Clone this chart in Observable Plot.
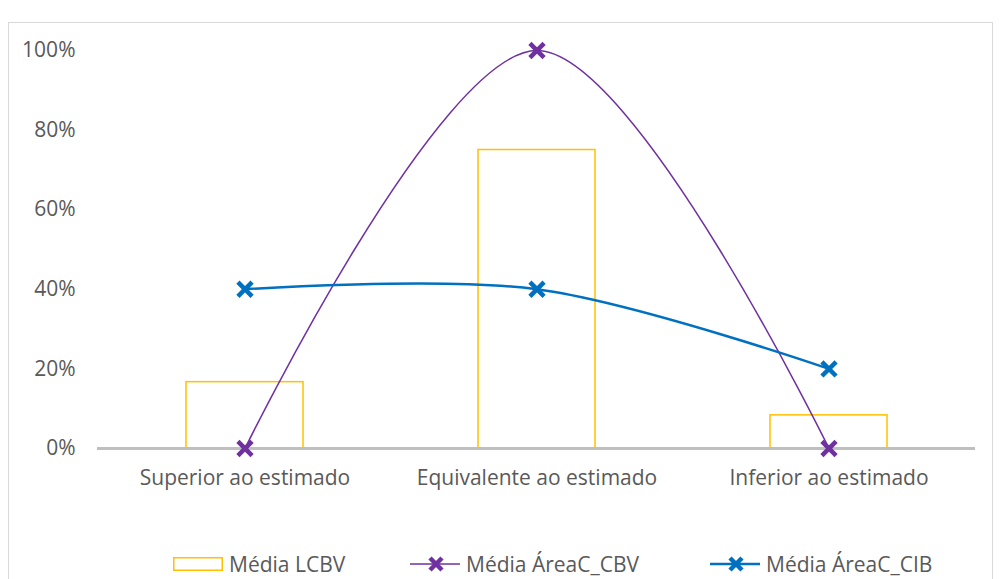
<!DOCTYPE html>
<html>
<head>
<meta charset="utf-8">
<script src="https://cdn.jsdelivr.net/npm/d3@7"></script>
<script src="https://cdn.jsdelivr.net/npm/@observablehq/plot@0.6"></script>
<style>
  html, body { margin: 0; padding: 0; background: #fff; width: 1001px; height: 579px; overflow: hidden; }
  #frame { position: absolute; left: 8px; top: 22px; width: 985px; height: 600px; border: 1px solid #d9d9d9; box-sizing: border-box; }
  #chart { position: absolute; left: 0; top: 0; }
  #legend { position: absolute; top: 551px; left: 0; width: 1001px; height: 26px; font-family: "Open Sans", sans-serif; font-size: 21px; color: #595959; }
  .item { position: absolute; top: 0; display: flex; align-items: center; height: 26px; }
  .item svg { margin-right: 6px; }
</style>
</head>
<body>
<div id="frame"></div>
<div id="chart"></div>
<div id="legend"></div>
<script>
const categories = ["Superior ao estimado", "Equivalente ao estimado", "Inferior ao estimado"];
const mediaLCBV = [0.1667, 0.75, 0.0833];
const mediaAreaCBV = [0, 1, 0];
const mediaAreaCIB = [0.4, 0.4, 0.2];
const yTicks = [0, 0.2, 0.4, 0.6, 0.8, 1];
const seriesNames = ["Média LCBV", "Média ÁreaC_CBV", "Média ÁreaC_CIB"];

const colors = { lcbv: "#ffc000", cbv: "#7030a0", cib: "#0070c0" };

const bars = categories.map((c, i) => ({ cat: c, v: mediaLCBV[i] }));
const cbv = categories.map((c, i) => ({ cat: c, v: mediaAreaCBV[i] }));
const cib = categories.map((c, i) => ({ cat: c, v: mediaAreaCIB[i] }));

const plot = Plot.plot({
  width: 1001,
  height: 520,
  marginLeft: 97,
  marginRight: 26,
  marginTop: 50,
  marginBottom: 72,
  style: { fontFamily: "'Open Sans', sans-serif", fontSize: "21px", color: "#595959", background: "transparent" },
  x: { domain: categories, type: "band", paddingInner: 0.6, paddingOuter: 0.3, label: null, tickSize: 0, tickPadding: 22 },
  y: { domain: [0, 1], ticks: yTicks, tickFormat: d3.format(".0%"), label: null, tickSize: 0, tickPadding: 22 },
  marks: [
    Plot.barY(bars, { x: "cat", y: "v", fill: "white", stroke: colors.lcbv, strokeWidth: 1.5 }),
    Plot.ruleY([0], { stroke: "#bfbfbf", strokeWidth: 3 }),
    Plot.line(cbv, { x: "cat", y: "v", stroke: colors.cbv, strokeWidth: 1.5, curve: "catmull-rom" }),
    Plot.line(cib, { x: "cat", y: "v", stroke: colors.cib, strokeWidth: 2.5, curve: "catmull-rom" }),
    Plot.dot(cbv, { x: "cat", y: "v", symbol: "times", r: 6.5, stroke: colors.cbv, strokeWidth: 4.5 }),
    Plot.dot(cib, { x: "cat", y: "v", symbol: "times", r: 6.5, stroke: colors.cib, strokeWidth: 4.5 })
  ]
});
document.getElementById("chart").appendChild(plot);

// Legend
const legend = document.getElementById("legend");
const lx = [173, 410, 710];
function icon(kind, color) {
  if (kind === "bar") {
    return `<svg width="50" height="16"><rect x="0.75" y="1.75" width="48.5" height="12.5" fill="white" stroke="${color}" stroke-width="1.5"/></svg>`;
  }
  const sw = kind === "cbv" ? 1.5 : 2.5;
  return `<svg width="50" height="20"><line x1="0" y1="10" x2="50" y2="10" stroke="${color}" stroke-width="${sw}"/>` +
    `<path d="M20,4L32,16M32,4L20,16" stroke="${color}" stroke-width="4.5"/></svg>`;
}
const kinds = ["bar", "cbv", "cib"];
const cols = [colors.lcbv, colors.cbv, colors.cib];
seriesNames.forEach((name, i) => {
  const d = document.createElement("div");
  d.className = "item";
  d.style.left = lx[i] + "px";
  d.innerHTML = icon(kinds[i], cols[i]) + `<span>${name}</span>`;
  legend.appendChild(d);
});
</script>
</body>
</html>
